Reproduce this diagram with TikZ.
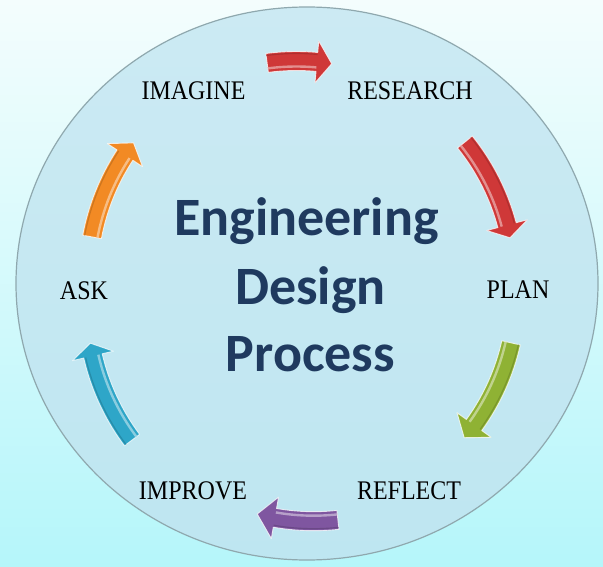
\documentclass[tikz,border=0pt]{standalone}
\usepackage{fontspec}
\setmainfont{Liberation Serif}
\newfontfamily\titlefont{Carlito}
\definecolor{bgtop}{HTML}{F4FDFD}
\definecolor{bgbot}{HTML}{B5F6FA}
\definecolor{disctop}{HTML}{CCEAF3}
\definecolor{discbot}{HTML}{BEE6F1}
\definecolor{discedge}{HTML}{8FA8AE}
\definecolor{navy}{HTML}{1F3A5F}
\definecolor{redA}{HTML}{CF3838}
\definecolor{greenA}{HTML}{8FB234}
\definecolor{purpleA}{HTML}{7F56A0}
\definecolor{cyanA}{HTML}{2EA6C8}
\definecolor{orangeA}{HTML}{F28A24}
\newcommand\labtxt[1]{\scalebox{1}[1.12]{#1}}
% #1 centre, #2 tail angle, #3 head-base angle, #4 tip angle, #5 colour
\newcommand\cyclearrow[5]{%
  \begin{scope}[shift={#1}]
    \filldraw[fill=#5, draw=white, draw opacity=0.75, line width=0.9, line join=round]
      (#2:234.5) arc[start angle=#2, end angle=#3, radius=234.5]
      -- (#3:246) -- (#4:225) -- (#3:204) -- (#3:215.5)
      arc[start angle=#3, end angle=#2, radius=215.5] -- cycle;
    \draw[#5!45!white, line width=2.4, opacity=0.8]
      (#2:219.5) arc[start angle=#2, end angle=#3, radius=219.5];
    \draw[#5!70!black, line width=1.2, opacity=0.5]
      (#2:232.5) arc[start angle=#2, end angle=#3, radius=232.5];
  \end{scope}}
\begin{document}
\begin{tikzpicture}[x=1pt, y=-1pt,
  lbl/.style={font=\fontsize{24}{24}\selectfont, text=black, anchor=base, inner sep=0pt},
  ttl/.style={font=\titlefont\bfseries\fontsize{54}{54}\selectfont, text=navy, anchor=base, inner sep=0pt}]
  \useasboundingbox (0,0) rectangle (603,567);
  \shade[top color=bgtop, bottom color=bgbot] (0,0) rectangle (603,567);
  % disc
  \coordinate (C) at (307,283.5);
  \shade[top color=disctop, bottom color=discbot] (C) ellipse [x radius=291, y radius=276.5];
  \draw[discedge, line width=1.2] (C) ellipse [x radius=291, y radius=276.5];
  % arrows
  \cyclearrow{(296.5,286)}{262.5}{275.2}{279.0}{redA}
  \cyclearrow{(289.6,283)}{-38.8}{-14.9}{-11.6}{redA}
  \cyclearrow{(291.6,293.4)}{12.7}{35.8}{39.9}{greenA}
  \cyclearrow{(313.6,296.2)}{83.8}{99.9}{104.5}{purpleA}
  \cyclearrow{(312.2,305.3)}{143.2}{167.0}{170.3}{cyanA}
  \cyclearrow{(313.2,278.3)}{190.6}{213.2}{217.0}{orangeA}
  % labels
  \node[lbl] (imagine) at (193.5,99.5) {\labtxt{IMAGINE}};
  \node[lbl] (research) at (410,99.5) {\labtxt{RESEARCH}};
  \node[lbl] (plan) at (518,298.5) {\labtxt{PLAN}};
  \node[lbl] (reflect) at (409,499) {\labtxt{REFLECT}};
  \node[lbl] (improve) at (193,499) {\labtxt{IMPROVE}};
  \node[lbl] (ask) at (84,299) {\labtxt{ASK}};
  % title
  \node[ttl] (eng) at (306.5,236) {Engineering};
  \node[ttl] (des) at (310.5,304) {Design};
  \node[ttl] (pro) at (310.5,371) {Process};
\end{tikzpicture}
\end{document}
